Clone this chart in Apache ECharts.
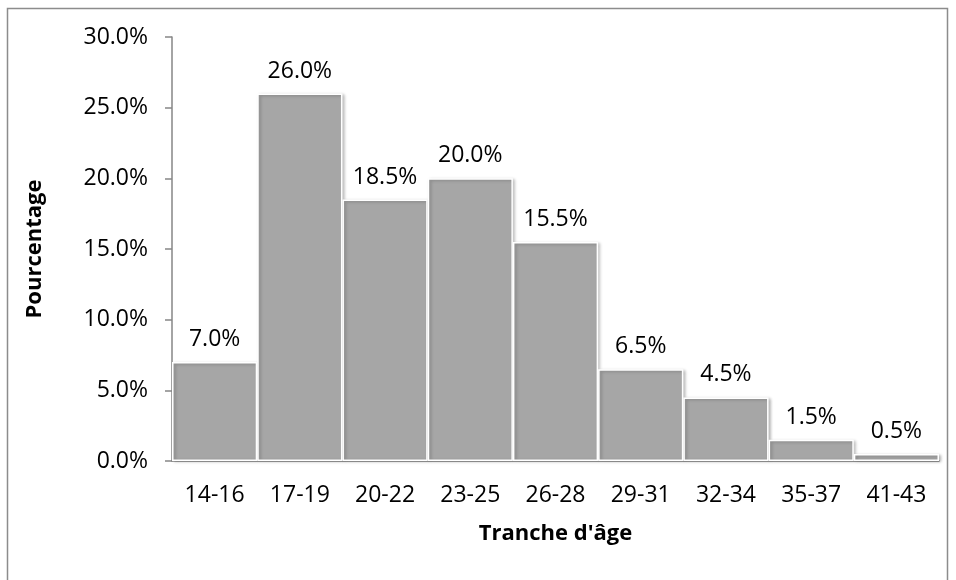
<!DOCTYPE html>
<html>
<head>
<meta charset="utf-8">
<script src="https://cdn.jsdelivr.net/npm/echarts@6/dist/echarts.min.js"></script>
<style>
html,body{margin:0;padding:0;background:#fff;}
#chart{width:956px;height:580px;}
</style>
</head>
<body>
<div id="chart"></div>
<script>
const categories = ['14-16','17-19','20-22','23-25','26-28','29-31','32-34','35-37','41-43'];
const percentages = [7.0, 26.0, 18.5, 20.0, 15.5, 6.5, 4.5, 1.5, 0.5];
const yTicks = {min: 0, max: 30, interval: 5};

const FONT = '"Open Sans", "Liberation Sans", sans-serif';
const chart = echarts.init(document.getElementById('chart'), null, {renderer: 'canvas'});
chart.setOption({
  animation: false,
  backgroundColor: '#fff',
  graphic: [{
    type: 'rect',
    shape: {x: 7.5, y: 8.5, width: 940, height: 620},
    style: {fill: 'none', stroke: '#8c8c8c', lineWidth: 1.5},
    silent: true
  }],
  grid: {left: 172, right: 17, top: 37, bottom: 119},
  xAxis: {
    type: 'category',
    data: categories,
    name: "Tranche d'âge",
    nameLocation: 'middle',
    nameGap: 62,
    nameTextStyle: {fontFamily: FONT, fontSize: 22, fontWeight: 'bold', color: '#000'},
    axisLine: {show: true, lineStyle: {color: '#868686', width: 1.5}},
    axisTick: {show: false},
    axisLabel: {fontFamily: FONT, fontSize: 23, color: '#000', margin: 23}
  },
  yAxis: {
    type: 'value',
    min: yTicks.min, max: yTicks.max, interval: yTicks.interval,
    name: 'Pourcentage',
    nameLocation: 'middle',
    nameGap: 126,
    nameTextStyle: {fontFamily: FONT, fontSize: 22, fontWeight: 'bold', color: '#000'},
    axisLine: {show: true, lineStyle: {color: '#868686', width: 1.5}},
    axisTick: {show: true, inside: false, length: 7, lineStyle: {color: '#868686', width: 1.5}},
    splitLine: {show: false},
    axisLabel: {fontFamily: FONT, fontSize: 23, color: '#000', margin: 24,
      formatter: v => v.toFixed(1) + '%'}
  },
  series: [{
    type: 'bar',
    data: percentages,
    barCategoryGap: '0%',
    itemStyle: {color: '#a6a6a6', borderColor: '#ffffff', borderWidth: 1.5,
      shadowColor: 'rgba(0,0,0,0.25)', shadowBlur: 3, shadowOffsetX: 2, shadowOffsetY: 1},
    label: {show: true, position: 'top', distance: 11, fontFamily: FONT, fontSize: 23, color: '#000',
      formatter: p => p.value.toFixed(1) + '%'}
  }]
});
</script>
</body>
</html>
